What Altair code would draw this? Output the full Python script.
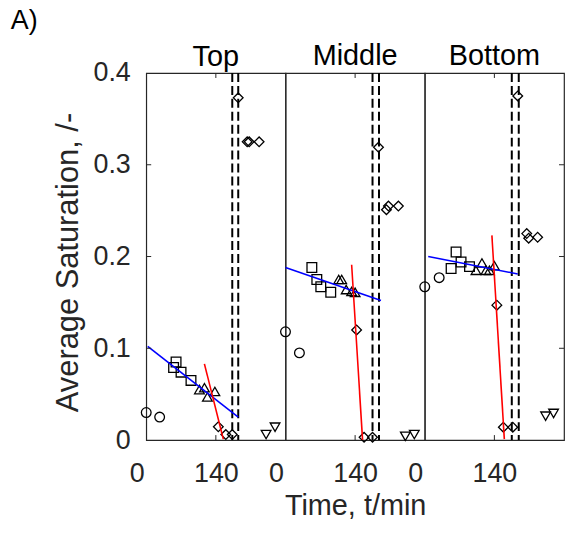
import altair as alt
import pandas as pd

FONT = "Liberation Sans"
TXT = "#262626"
panels = ["Top", "Middle", "Bottom"]

# ---- Top ----
top_circle_t = [0, 27]
top_circle_v = [0.030, 0.025]
top_square_t = [55, 60, 70, 90]
top_square_v = [0.079, 0.085, 0.074, 0.065]
top_tri_t = [107, 117, 123, 138]
top_tri_v = [0.055, 0.057, 0.047, 0.053]
top_diamond_t = [145, 160, 173, 185, 203, 207, 227]
top_diamond_v = [0.0145, 0.006, 0.006, 0.373, 0.325, 0.325, 0.325]
top_tridown_t = [241, 259]
top_tridown_v = [0.006, 0.014]
top_blue_t = [3, 185]
top_blue_v = [0.102, 0.025]
top_red_t = [117, 155]
top_red_v = [0.083, 0.001]
top_dash_t = [173, 185]

# ---- Middle ----
mid_circle_t = [0, 28]
mid_circle_v = [0.118, 0.095]
mid_square_t = [53, 63, 71, 91]
mid_square_v = [0.188, 0.175, 0.167, 0.161]
mid_tri_t = [107, 113, 122, 133, 140]
mid_tri_v = [0.175, 0.175, 0.164, 0.162, 0.161]
mid_diamond_t = [143, 158, 175, 187, 203, 207, 227]
mid_diamond_v = [0.120, 0.003, 0.003, 0.319, 0.251, 0.255, 0.255]
mid_tridown_t = [241, 259]
mid_tridown_v = [0.004, 0.006]
mid_blue_t = [0, 192]
mid_blue_v = [0.188, 0.152]
mid_red_t = [133, 155]
mid_red_v = [0.191, 0.0]
mid_dash_t = [175, 188]

# ---- Bottom ----
bot_circle_t = [0, 29]
bot_circle_v = [0.167, 0.177]
bot_square_t = [53, 63, 73, 90]
bot_square_v = [0.187, 0.205, 0.194, 0.189]
bot_tri_t = [103, 115, 123, 130, 140]
bot_tri_v = [0.185, 0.193, 0.185, 0.185, 0.190]
bot_diamond_t = [145, 158, 177, 187, 205, 209, 227]
bot_diamond_v = [0.147, 0.014, 0.014, 0.375, 0.225, 0.220, 0.221]
bot_tridown_t = [243, 259]
bot_tridown_v = [0.026, 0.029]
bot_blue_t = [7, 187]
bot_blue_v = [0.200, 0.181]
bot_red_t = [135, 160]
bot_red_v = [0.223, 0.001]
bot_dash_t = [175, 189]

x_ticks = [0, 140]
y_ticks = [0, 0.1, 0.2, 0.3, 0.4]
inner_y_ticks = [0.1, 0.2, 0.3]
inner_x_ticks = [140]

point_kinds = ["circle", "square", "triangle", "diamond", "tridown"]
shape_range = ["circle", "square", "triangle-up", "diamond", "triangle-down"]

series = {
    "Top": dict(circle=(top_circle_t, top_circle_v), square=(top_square_t, top_square_v),
                triangle=(top_tri_t, top_tri_v), diamond=(top_diamond_t, top_diamond_v),
                tridown=(top_tridown_t, top_tridown_v), blue=(top_blue_t, top_blue_v),
                red=(top_red_t, top_red_v), dash=top_dash_t),
    "Middle": dict(circle=(mid_circle_t, mid_circle_v), square=(mid_square_t, mid_square_v),
                   triangle=(mid_tri_t, mid_tri_v), diamond=(mid_diamond_t, mid_diamond_v),
                   tridown=(mid_tridown_t, mid_tridown_v), blue=(mid_blue_t, mid_blue_v),
                   red=(mid_red_t, mid_red_v), dash=mid_dash_t),
    "Bottom": dict(circle=(bot_circle_t, bot_circle_v), square=(bot_square_t, bot_square_v),
                   triangle=(bot_tri_t, bot_tri_v), diamond=(bot_diamond_t, bot_diamond_v),
                   tridown=(bot_tridown_t, bot_tridown_v), blue=(bot_blue_t, bot_blue_v),
                   red=(bot_red_t, bot_red_v), dash=bot_dash_t),
}

W, H = 140, 369
xscale = alt.Scale(domain=[0, 280], nice=False, zero=False)
yscale = alt.Scale(domain=[0, 0.4], nice=False)


def make_panel(name, idx):
    s = series[name]
    pts = pd.DataFrame([
        {"t": t, "v": v, "kind": k}
        for k in point_kinds for t, v in zip(*s[k])
    ])
    lines = pd.DataFrame([
        {"t": t, "v": v, "fit": k}
        for k in ["blue", "red"] for t, v in zip(*s[k])
    ])
    dash = pd.DataFrame({"t": s["dash"]})

    xaxis_kw = dict(values=x_ticks, grid=False, ticks=False, domain=False,
                    labelFontSize=27, labelFont=FONT, labelColor=TXT,
                    labelPadding=21, labelFlush=1, labelFlushOffset=17)
    if idx == 1:
        xaxis_kw.update(title="Time, t/min", titleFontSize=29, titleFont=FONT,
                        titleFontWeight="normal", titleColor=TXT, titlePadding=5)
    else:
        xaxis_kw.update(title=None)
    xaxis = alt.Axis(**xaxis_kw)
    if idx == 0:
        yenc = alt.Y("v:Q", scale=yscale, axis=alt.Axis(
            values=y_ticks, format=".1~f", grid=False, ticks=False, domain=False,
            labelFontSize=27, labelFont=FONT, labelColor=TXT, labelPadding=16,
            title="Average Saturation, /-", titleFontSize=31, titleFont=FONT,
            titleFontWeight="normal", titleColor=TXT, titlePadding=9, titleY=190))
    else:
        yenc = alt.Y("v:Q", scale=yscale, axis=None)
    xenc = alt.X("t:Q", scale=xscale, axis=xaxis)

    p = alt.Chart(pts).mark_point(filled=False, color="black", strokeWidth=1.3, size=95, opacity=1).encode(
        x=xenc, y=yenc,
        shape=alt.Shape("kind:N", scale=alt.Scale(domain=point_kinds, range=shape_range), legend=None),
    )
    ln = alt.Chart(lines).mark_line(strokeWidth=1.6).encode(
        x=alt.X("t:Q", scale=xscale), y=alt.Y("v:Q", scale=yscale),
        color=alt.Color("fit:N", scale=alt.Scale(domain=["blue", "red"], range=["#0000ff", "#ff0000"]), legend=None),
        detail="fit:N",
    )
    dr = alt.Chart(dash).mark_rule(color="black", strokeWidth=2, strokeDash=[9, 4]).encode(
        x=alt.X("t:Q", scale=xscale))

    xt = pd.DataFrame({"t": inner_x_ticks})
    tick_top = alt.Chart(xt).mark_rule(color=TXT).encode(
        x=alt.X("t:Q", scale=xscale), y=alt.value(0), y2=alt.value(5))
    tick_bot = alt.Chart(xt).mark_rule(color=TXT).encode(
        x=alt.X("t:Q", scale=xscale), y=alt.value(H), y2=alt.value(H - 5))
    layers = [p, dr, ln, tick_top, tick_bot]
    yt = pd.DataFrame({"v": inner_y_ticks})
    if idx == 0:
        layers.append(alt.Chart(yt).mark_rule(color=TXT).encode(
            y=alt.Y("v:Q", scale=yscale), x=alt.value(0), x2=alt.value(5)))
    if idx == 2:
        layers.append(alt.Chart(yt).mark_rule(color=TXT).encode(
            y=alt.Y("v:Q", scale=yscale), x=alt.value(W - 5), x2=alt.value(W)))
    return alt.layer(*layers).properties(
        width=W, height=H,
        title=alt.TitleParams(name, fontSize=29, font=FONT, fontWeight="normal", color="black",
                              offset=1, dy=13.5 if idx == 0 else 0),
    )


chart = alt.hconcat(*[make_panel(n, i) for i, n in enumerate(panels)], spacing=0, bounds="flush").properties(
    title=alt.TitleParams("A)", anchor="start", fontSize=27, font=FONT, fontWeight="normal",
                          color="black", dx=-41, offset=7),
    padding={"left": 10, "top": 5, "right": 0, "bottom": 0},
).configure(background="white").configure_view(stroke="#262626", strokeWidth=1.2)

chart.save("out.html", embed_options={"renderer": "svg", "actions": False})
